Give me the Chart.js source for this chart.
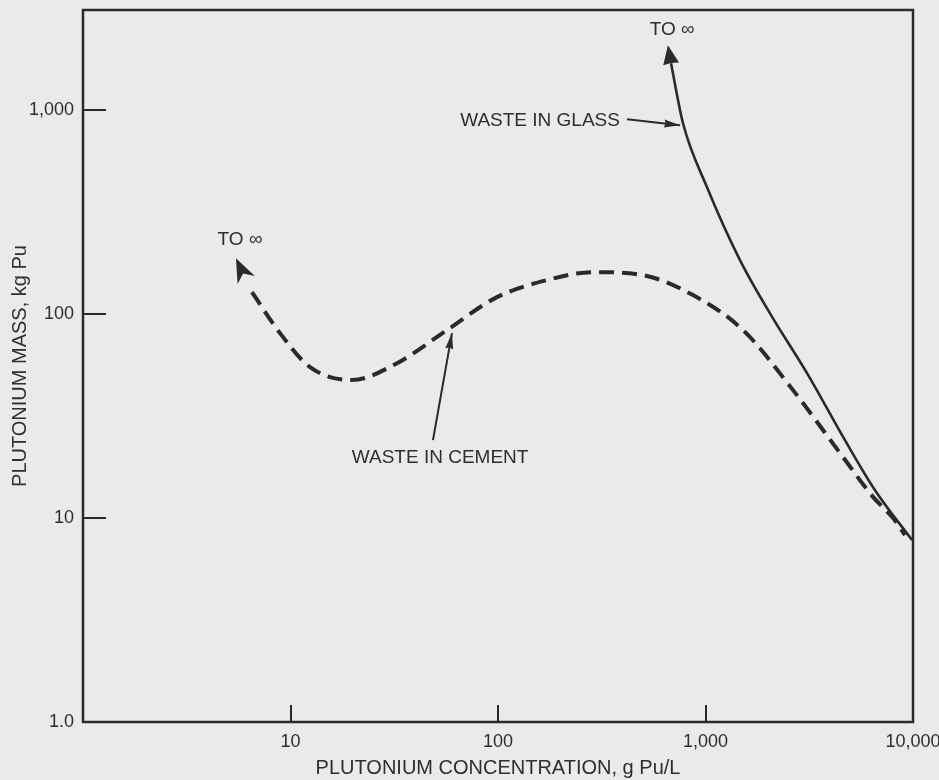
<!DOCTYPE html>
<html>
<head>
<meta charset="utf-8">
<script src="https://cdn.jsdelivr.net/npm/chart.js@4.4.1/dist/chart.umd.min.js"></script>
<style>
  html, body { margin: 0; padding: 0; background: #e8ebe7; }
  #wrap { width: 939px; height: 780px; position: relative; }
</style>
</head>
<body>
<div id="wrap"><canvas id="c" width="939" height="780"></canvas></div>
<script>
// ---- data ----
const xTickValues = [10, 100, 1000, 10000];
const xTickLabels = ['10', '100', '1,000', '10,000'];
const yTickValues = [1, 10, 100, 1000];
const yTickLabels = ['1.0', '10', '100', '1,000'];

// Waste in glass (solid)
const glassX = [682, 779, 1017, 1466, 2069, 3085, 4700, 6560, 9890];
const glassY = [1700, 863, 419, 184, 98.9, 51.4, 24.1, 13.7, 7.8];

// Waste in cement (dashed)
const cementX = [6.52, 8.90, 12.42, 19.79, 32.6, 56.8, 98.9, 172.3, 287, 500, 870, 1517, 2641, 4600, 6415, 8014, 9150];
const cementY = [128.2, 80.7, 55.0, 47.5, 57.5, 83.5, 121.2, 146.8, 160.7, 155.3, 124, 83.5, 42.4, 19.9, 12.7, 10, 8.26];

// annotation anchors (data coordinates)
const glassHeadTip = [659, 2083];
const cementHeadTip = [5.46, 188];
const glassPointer = [[419, 903], [754, 844]];
const cementPointer = [[48.6, 24.1], [60.0, 80.7]];
const labelTexts = ['TO \u221E', 'TO \u221E', 'WASTE IN GLASS', 'WASTE IN CEMENT'];
const labelAnchors = [[690, 2466], [5.71, 230.6], [387, 883], [52.6, 19.7]];

const INK = '#2a2a2a';
const FONT = '"Liberation Sans", Arial, Helvetica, sans-serif';

function pts(xs, ys) { return xs.map((x, i) => ({ x: x, y: ys[i] })); }

function arrowHead(ctx, fx, fy, tx, ty, len, wid, notch) {
  const a = Math.atan2(ty - fy, tx - fx);
  const c = Math.cos(a), s = Math.sin(a);
  const bx = tx - c * len, by = ty - s * len;
  ctx.beginPath();
  ctx.moveTo(tx, ty);
  ctx.lineTo(bx - s * wid / 2, by + c * wid / 2);
  ctx.lineTo(tx - c * len * (1 - notch), ty - s * len * (1 - notch));
  ctx.lineTo(bx + s * wid / 2, by - c * wid / 2);
  ctx.closePath();
  ctx.fill();
}

function noPad(s) { s.paddingTop = 0; s.paddingBottom = 0; s.paddingLeft = 0; s.paddingRight = 0; }

const decor = {
  id: 'decor',
  beforeDraw(chart) {
    const ctx = chart.ctx;
    ctx.save();
    ctx.fillStyle = '#e8ebe7';
    ctx.fillRect(0, 0, chart.width, chart.height);
    ctx.restore();
  },
  afterDraw(chart) {
    const ctx = chart.ctx;
    const xs = chart.scales.x, ys = chart.scales.y;
    const P = (p) => [xs.getPixelForValue(p[0]), ys.getPixelForValue(p[1])];
    const a = chart.chartArea;
    ctx.save();
    // frame
    ctx.strokeStyle = INK;
    ctx.lineWidth = 2.5;
    ctx.strokeRect(a.left, a.top, a.right - a.left, a.bottom - a.top);
    ctx.fillStyle = INK;
    // TO infinity arrowheads
    let f = P([glassX[0], glassY[0]]), t = P(glassHeadTip);
    arrowHead(ctx, f[0], f[1], t[0], t[1], 19, 16, 0.05);
    f = P([cementX[0], cementY[0]]); t = P(cementHeadTip);
    arrowHead(ctx, f[0], f[1], t[0], t[1], 24, 19, 0.3);
    // pointer arrows
    ctx.lineWidth = 2;
    [glassPointer, cementPointer].forEach((pp) => {
      const p0 = P(pp[0]), p1 = P(pp[1]);
      ctx.beginPath();
      ctx.moveTo(p0[0], p0[1]);
      ctx.lineTo(p1[0], p1[1]);
      ctx.stroke();
      arrowHead(ctx, p0[0], p0[1], p1[0], p1[1], 16, 8, 0.1);
    });
    // labels
    ctx.font = '19px ' + FONT;
    ctx.textBaseline = 'middle';
    ctx.fillStyle = '#2e2e2e';
    const aligns = ['center', 'center', 'right', 'center'];
    labelTexts.forEach((txt, i) => {
      const p = P(labelAnchors[i]);
      ctx.textAlign = aligns[i];
      ctx.fillText(txt, p[0], p[1]);
    });
    ctx.restore();
  }
};

new Chart(document.getElementById('c'), {
  type: 'line',
  data: {
    datasets: [
      {
        label: 'Waste in glass',
        data: pts(glassX, glassY),
        borderColor: INK,
        borderWidth: 2.6,
        pointRadius: 0,
        cubicInterpolationMode: 'monotone',
        fill: false
      },
      {
        label: 'Waste in cement',
        data: pts(cementX, cementY),
        borderColor: INK,
        borderWidth: 4,
        borderDash: [15, 8],
        pointRadius: 0,
        cubicInterpolationMode: 'monotone',
        fill: false
      }
    ]
  },
  options: {
    responsive: false,
    animation: false,
    devicePixelRatio: 1,
    layout: { padding: { top: 10, right: 26, left: 0, bottom: 0 } },
    plugins: { legend: { display: false }, tooltip: { enabled: false } },
    scales: {
      x: {
        type: 'logarithmic',
        position: 'bottom',
        min: 1,
        max: 10000,
        afterBuildTicks: (s) => { s.ticks = xTickValues.map(v => ({ value: v })); },
        afterFit: (s) => { s.height = 58; noPad(s); },
        ticks: {
          autoSkip: false,
          maxRotation: 0,
          padding: 26,
          color: '#2e2e2e',
          font: { family: FONT, size: 18 },
          callback: (v) => { const i = xTickValues.indexOf(v); return i >= 0 ? xTickLabels[i] : ''; }
        },
        grid: { drawOnChartArea: false, drawTicks: true, tickLength: -17, color: INK, lineWidth: 2 },
        border: { display: false },
        title: {
          display: true,
          text: 'PLUTONIUM CONCENTRATION, g Pu/L',
          color: '#2e2e2e',
          font: { family: FONT, size: 20 },
          padding: { top: 0, bottom: 0 }
        }
      },
      y: {
        type: 'logarithmic',
        position: 'left',
        min: 1,
        max: 3100,
        afterBuildTicks: (s) => { s.ticks = yTickValues.map(v => ({ value: v })); },
        afterFit: (s) => { s.width = 83; noPad(s); },
        ticks: {
          autoSkip: false,
          padding: 32,
          color: '#2e2e2e',
          font: { family: FONT, size: 18 },
          callback: (v) => { const i = yTickValues.indexOf(v); return i >= 0 ? yTickLabels[i] : ''; }
        },
        grid: { drawOnChartArea: false, drawTicks: true, tickLength: -23, color: INK, lineWidth: 2 },
        border: { display: false },
        title: {
          display: true,
          text: 'PLUTONIUM MASS, kg Pu',
          color: '#2e2e2e',
          font: { family: FONT, size: 20 },
          padding: { top: 8, bottom: 0 }
        }
      }
    }
  },
  plugins: [decor]
});
</script>
</body>
</html>
